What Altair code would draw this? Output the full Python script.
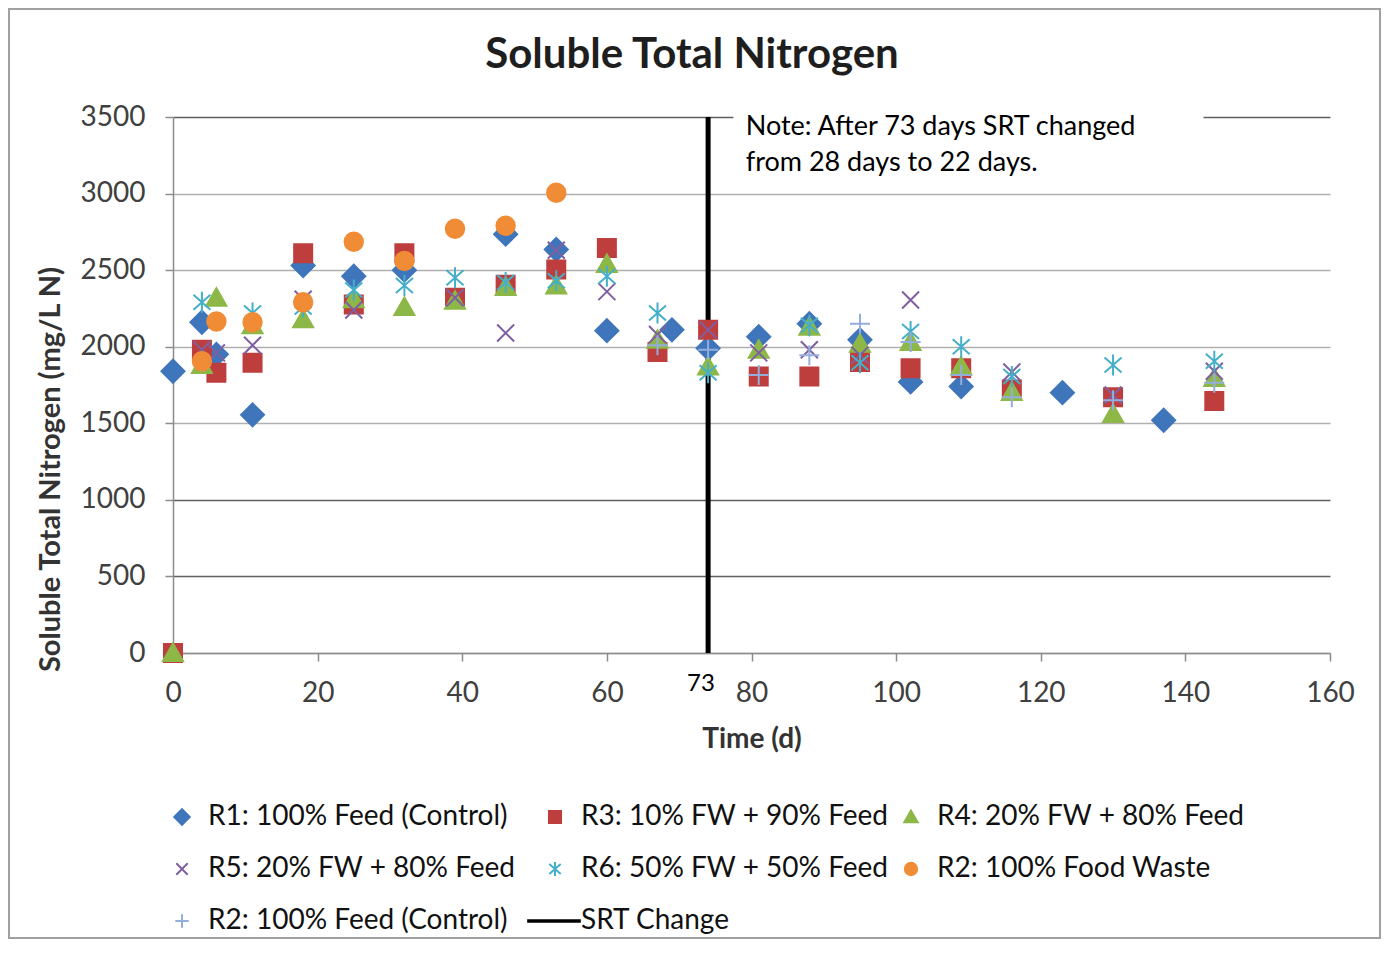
import altair as alt
import pandas as pd

# ---------------- data ----------------
SERIES = [
    "R1: 100% Feed (Control)",
    "R3: 10% FW + 90% Feed",
    "R4: 20% FW + 80% Feed",
    "R5: 20% FW + 80% Feed",
    "R6: 50% FW + 50% Feed",
    "R2: 100% Food Waste",
    "R2: 100% Feed (Control)",
    "SRT Change",
]
COLORS = ["#3F75BA", "#BE3E3E", "#8DB847", "#7F5FA0", "#45AFC9", "#F08C36", "#93AEDC", "#000000"]

r1_days = [0, 4, 6, 11, 18, 25, 32, 46, 53, 60, 69, 74, 81, 88, 95, 102, 109, 123, 137]
r1_vals = [1840, 2160, 1950, 1555, 2530, 2460, 2500, 2735, 2635, 2105, 2110, 1990, 2065, 2150, 2045, 1770, 1740, 1700, 1520]

r3_days = [0, 4, 6, 11, 18, 25, 32, 39, 46, 53, 60, 67, 74, 81, 88, 95, 102, 109, 116, 130, 144]
r3_vals = [0, 1980, 1830, 1895, 2610, 2275, 2610, 2320, 2405, 2505, 2645, 1965, 2110, 1805, 1805, 1900, 1860, 1860, 1720, 1670, 1645]

r4_days = [0, 4, 6, 11, 18, 25, 32, 39, 46, 53, 60, 67, 74, 81, 88, 95, 102, 109, 116, 130, 144]
r4_vals = [0, 1880, 2320, 2140, 2180, 2310, 2260, 2300, 2390, 2400, 2540, 2045, 1870, 1980, 2130, 2020, 2030, 1870, 1705, 1560, 1795]

r5_days = [4, 6, 11, 18, 25, 39, 46, 53, 60, 67, 74, 81, 88, 95, 102, 116, 130, 144]
r5_vals = [1980, 1960, 2010, 2310, 2240, 2320, 2090, 2630, 2360, 2080, 2110, 1960, 1980, 1945, 2305, 1835, 1685, 1840]

r6_days = [4, 11, 18, 25, 32, 39, 46, 53, 60, 67, 74, 88, 95, 102, 109, 116, 130, 144]
r6_vals = [2290, 2220, 2260, 2370, 2400, 2450, 2420, 2430, 2460, 2220, 1830, 2140, 1895, 2100, 2000, 1805, 1880, 1905]

r2fw_days = [4, 6, 11, 18, 25, 32, 39, 46, 53]
r2fw_vals = [1905, 2165, 2160, 2290, 2685, 2560, 2770, 2790, 3005]

r2c_days = [67, 74, 81, 88, 95, 102, 109, 116, 130, 144]
r2c_vals = [2010, 1980, 1815, 1945, 2150, 2030, 1815, 1670, 1650, 1765]

SRT_DAY = [74]
SRT_LABEL = ["73"]
TITLE = ["Soluble Total Nitrogen"]
NOTE_LINES = ["Note: After 73 days SRT changed", "from 28 days to 22 days."]
X_TICKS = [0, 20, 40, 60, 80, 100, 120, 140, 160]
Y_TICKS = [0, 500, 1000, 1500, 2000, 2500, 3000, 3500]

# ---------------- build tables ----------------
groups = [
    (SERIES[0], r1_days, r1_vals),
    (SERIES[1], r3_days, r3_vals),
    (SERIES[2], r4_days, r4_vals),
    (SERIES[3], r5_days, r5_vals),
    (SERIES[4], r6_days, r6_vals),
    (SERIES[5], r2fw_days, r2fw_vals),
    (SERIES[6], r2c_days, r2c_vals),
]
rows = []
k = 0
for name, ds, vs in groups:
    for d, v in zip(ds, vs):
        rows.append({"series": name, "day": d, "value": v, "order": k})
        k += 1
df = pd.DataFrame(rows)

SHAPES = [
    "M-1.15,0L0,-1.15L1.15,0L0,1.15Z",
    "M-0.9,-0.9L0.9,-0.9L0.9,0.9L-0.9,0.9Z",
    "M0,-0.95L1,0.8L-1,0.8Z",
    "M-0.85,-0.85L0.85,0.85M-0.85,0.85L0.85,-0.85",
    "M-0.85,-0.75L0.85,0.75M-0.85,0.75L0.85,-0.75M0,-1.05L0,1.05",
    "M0.92,0A0.92,0.92,0,1,1,-0.92,0A0.92,0.92,0,1,1,0.92,0Z",
    "M-1,0L1,0M0,-1L0,1",
    "M-4,-0.12L3.7,-0.12L3.7,0.12L-4,0.12Z",
]

W, H = 1157, 536
FONT = "Lato"

x_scale = alt.Scale(domain=[0, 160], nice=False, zero=False)
y_scale = alt.Scale(domain=[0, 3500], nice=False)

x_axis = alt.Axis(
    values=X_TICKS, grid=False, tickSize=8, tickColor="#8c8c8c", domainColor="#8c8c8c",
    tickWidth=1.5, domainWidth=1.5, format="d",
    labelFont=FONT, labelFontSize=28, labelColor="#404040", labelPadding=18,
    labelFlush=False, labelOverlap=False,
    title="Time (d)", titleFont=FONT, titleFontSize=28, titleFontWeight="bold",
    titleColor="#333333", titleY=86, titleBaseline="middle",
)
y_axis = alt.Axis(
    values=Y_TICKS, grid=True, gridWidth=1.5, format="d",
    gridColor={"condition": {"test": "datum.value == 3500 || datum.value == 1000 || datum.value == 500",
                             "value": "#606060"}, "value": "#b0b0b0"},
    tickSize=8, tickColor="#8c8c8c", domainColor="#8c8c8c", tickWidth=1.5, domainWidth=1.5,
    labelFont=FONT, labelFontSize=28, labelColor="#404040", labelPadding=20,
    title="Soluble Total Nitrogen (mg/L N)", titleFont=FONT, titleFontSize=29,
    titleFontWeight="bold", titleColor="#333333", titleX=-123, titleY=352,
    titleAlign="center", titleBaseline="middle", titleAngle=-90,
)

points = alt.Chart(df).mark_point(filled=True, size=400, strokeWidth=2, opacity=1).encode(
    x=alt.X("day:Q", scale=x_scale, axis=x_axis),
    y=alt.Y("value:Q", scale=y_scale, axis=y_axis),
    color=alt.Color("series:N", scale=alt.Scale(domain=SERIES, range=COLORS), legend=alt.Legend(title=None)),
    stroke=alt.Stroke("series:N", scale=alt.Scale(domain=SERIES, range=COLORS), legend=alt.Legend(title=None)),
    shape=alt.Shape("series:N", scale=alt.Scale(domain=SERIES, range=SHAPES), legend=alt.Legend(title=None)),
    order=alt.Order("order:Q"),
)

rule = alt.Chart(pd.DataFrame({"day": SRT_DAY})).mark_rule(color="black", strokeWidth=5).encode(
    x=alt.X("day:Q", scale=x_scale),
    y=alt.value(0),
    y2=alt.value(H),
)

label73 = alt.Chart(pd.DataFrame({"day": [73], "t": SRT_LABEL})).mark_text(
    font=FONT, fontSize=24, color="black", baseline="middle", align="center"
).encode(x=alt.X("day:Q", scale=x_scale), y=alt.value(H + 31), text="t:N")

title = alt.Chart(pd.DataFrame({"t": TITLE})).mark_text(
    font=FONT, fontSize=42, fontWeight="bold", color="#1e1e1e", baseline="middle", align="center"
).encode(x=alt.value(519), y=alt.value(-62), text="t:N")

note_bg = alt.Chart(pd.DataFrame({"x": [77.5], "x2": [142.5], "y": [3440], "y2": [3530]})).mark_rect(
    fill="white"
).encode(x=alt.X("x:Q", scale=x_scale), x2="x2:Q", y=alt.Y("y:Q", scale=y_scale), y2="y2:Q")

note = alt.Chart(pd.DataFrame({"x": [79.2, 79.2], "y": [3436, 3201], "t": NOTE_LINES})).mark_text(
    font=FONT, fontSize=27, color="black", align="left", baseline="middle"
).encode(x=alt.X("x:Q", scale=x_scale), y=alt.Y("y:Q", scale=y_scale), text="t:N")

border = alt.Chart(pd.DataFrame({"a": [0]})).mark_rect(
    fill=None, stroke="#a0a0a0", strokeWidth=2
).encode(x=alt.value(-164), x2=alt.value(W + 50), y=alt.value(-108), y2=alt.value(H + 285))

chart = alt.layer(border, rule, note_bg, points, note, label73, title).properties(
    width=W, height=H,
    autosize=alt.AutoSizeParams(type="none"),
    padding={"left": 165, "top": 109, "right": 52, "bottom": 287},
).configure_view(stroke=None).configure_legend(
    orient="none", legendX=-5, legendY=686, direction="horizontal", columns=3,
    symbolSize=180, symbolStrokeWidth=2, labelFont=FONT, labelFontSize=28, labelColor="#111111",
    labelOffset=12, columnPadding=8, rowPadding=24, padding=0, labelLimit=500,
)

chart.save("out.html", embed_options={"renderer": "svg", "actions": False})
